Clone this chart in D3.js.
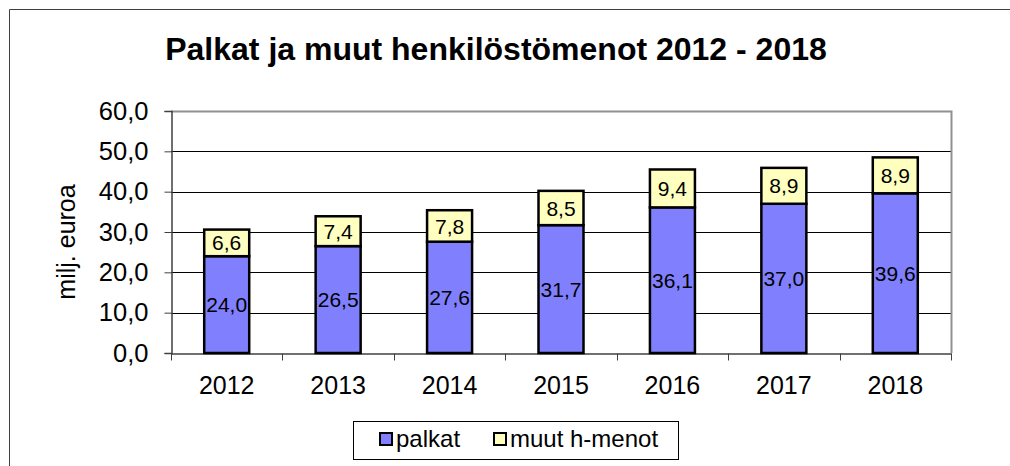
<!DOCTYPE html>
<meta charset="utf-8">
<script src="https://d3js.org/d3.v7.min.js"></script>
<style>
  body { margin: 0; background: #fff; }
  text { font-family: "Liberation Sans", Arial, sans-serif; }
</style>
<div id="chart"></div>
<script>
// data
var years = ["2012", "2013", "2014", "2015", "2016", "2017", "2018"];
var palkat = [24.0, 26.5, 27.6, 31.7, 36.1, 37.0, 39.6];
var muut = [6.6, 7.4, 7.8, 8.5, 9.4, 8.9, 8.9];
var yTicks = [0, 10, 20, 30, 40, 50, 60];
var seriesNames = ["palkat", "muut h-menot"];
var colors = ["#8080ff", "#ffffc0"];

var W = 1010, H = 466;
var plot = {left: 171, top: 111, right: 951, bottom: 353};

var fmt = function(v) { return d3.format(".1f")(v).replace(".", ","); };

var svg = d3.select("#chart").append("svg")
  .attr("width", W).attr("height", H);

// outer chart border (only top and left are visible)
svg.append("path")
  .attr("d", "M9.5," + H + "V9.5H" + W)
  .attr("fill", "none").attr("stroke", "#404040").attr("stroke-width", 1);

// title
svg.append("text")
  .attr("x", 496).attr("y", 60)
  .attr("text-anchor", "middle")
  .attr("font-size", 32).attr("font-weight", "bold")
  .text("Palkat ja muut henkilöstömenot 2012 - 2018");

var x = d3.scaleBand().domain(years).range([plot.left, plot.right]);
var y = d3.scaleLinear().domain([0, 60]).range([plot.bottom, plot.top]);

// gridlines
svg.append("g").selectAll("line")
  .data(yTicks.filter(function(t) { return t > 0 && t < 60; }))
  .enter().append("line")
    .attr("x1", plot.left).attr("x2", plot.right)
    .attr("y1", function(d) { return Math.round(y(d)) + 0.5; })
    .attr("y2", function(d) { return Math.round(y(d)) + 0.5; })
    .attr("stroke", "#000").attr("stroke-width", 1);

// plot area border (top, right)
svg.append("path")
  .attr("d", "M" + plot.left + "," + (plot.top + 0.5) + "H" + (plot.right + 0.5) + "V" + plot.bottom)
  .attr("fill", "none").attr("stroke", "#909090").attr("stroke-width", 2);

// y axis
var yAxis = svg.append("g")
  .attr("transform", "translate(" + (plot.left + 0.5) + ",0)")
  .call(d3.axisLeft(y).tickValues(yTicks).tickFormat(fmt).tickSize(7).tickPadding(16));
yAxis.select(".domain").attr("stroke", "#404040").attr("stroke-width", 1.5);
yAxis.selectAll(".tick line").attr("stroke", "#404040");
yAxis.selectAll("text").attr("font-size", 25.5).attr("fill", "#000")
  .attr("font-family", "Liberation Sans, Arial, sans-serif");

// x axis
var xAxis = svg.append("g")
  .attr("transform", "translate(0," + (plot.bottom + 0.5) + ")")
  .call(d3.axisBottom(x).tickSize(0).tickPadding(23));
xAxis.select(".domain").attr("stroke", "#404040").attr("stroke-width", 1.5);
xAxis.selectAll("text").attr("font-size", 25).attr("fill", "#000")
  .attr("font-family", "Liberation Sans, Arial, sans-serif");
// category separator ticks
xAxis.selectAll(".sep")
  .data(years.concat(["end"]))
  .enter().append("line")
    .attr("x1", function(d, i) { return Math.round(plot.left + i * x.step()) + 0.5; })
    .attr("x2", function(d, i) { return Math.round(plot.left + i * x.step()) + 0.5; })
    .attr("y1", 0).attr("y2", 7)
    .attr("stroke", "#404040");

// y axis label
svg.append("text")
  .attr("transform", "translate(75,242) rotate(-90)")
  .attr("text-anchor", "middle")
  .attr("font-size", 25)
  .text("milj. euroa");

// stacked bars
var rows = years.map(function(yr, i) { return {year: yr, palkat: palkat[i], muut: muut[i]}; });
var stack = d3.stack().keys(["palkat", "muut"])(rows);
var barW = 45;

var layers = svg.append("g").selectAll("g")
  .data(stack).enter().append("g")
    .attr("fill", function(d, i) { return colors[i]; });

layers.selectAll("rect")
  .data(function(d) { return d; })
  .enter().append("rect")
    .attr("x", function(d) { return x(d.data.year) + x.bandwidth() / 2 - barW / 2; })
    .attr("y", function(d) { return y(d[1]); })
    .attr("width", barW)
    .attr("height", function(d) { return y(d[0]) - y(d[1]); })
    .attr("stroke", "#000").attr("stroke-width", 2.5);

layers.selectAll("text")
  .data(function(d) { return d; })
  .enter().append("text")
    .attr("x", function(d) { return x(d.data.year) + x.bandwidth() / 2; })
    .attr("y", function(d) { return (y(d[0]) + y(d[1])) / 2; })
    .attr("dy", "0.36em")
    .attr("text-anchor", "middle")
    .attr("font-size", 21)
    .attr("fill", "#000")
    .text(function(d) { return fmt(d[1] - d[0]); });

// legend
var lg = svg.append("g");
lg.append("rect")
  .attr("x", 353.5).attr("y", 421.5).attr("width", 325).attr("height", 38)
  .attr("fill", "#fff").attr("stroke", "#000").attr("stroke-width", 1);
var legendX = [380, 494];
var items = lg.selectAll(".item").data(seriesNames).enter().append("g");
items.append("rect")
  .attr("x", function(d, i) { return legendX[i]; })
  .attr("y", 433).attr("width", 12).attr("height", 12)
  .attr("fill", function(d, i) { return colors[i]; })
  .attr("stroke", "#000").attr("stroke-width", 2);
items.append("text")
  .attr("x", function(d, i) { return legendX[i] + 16; })
  .attr("y", 447)
  .attr("font-size", 24)
  .text(function(d) { return d; });
</script>
